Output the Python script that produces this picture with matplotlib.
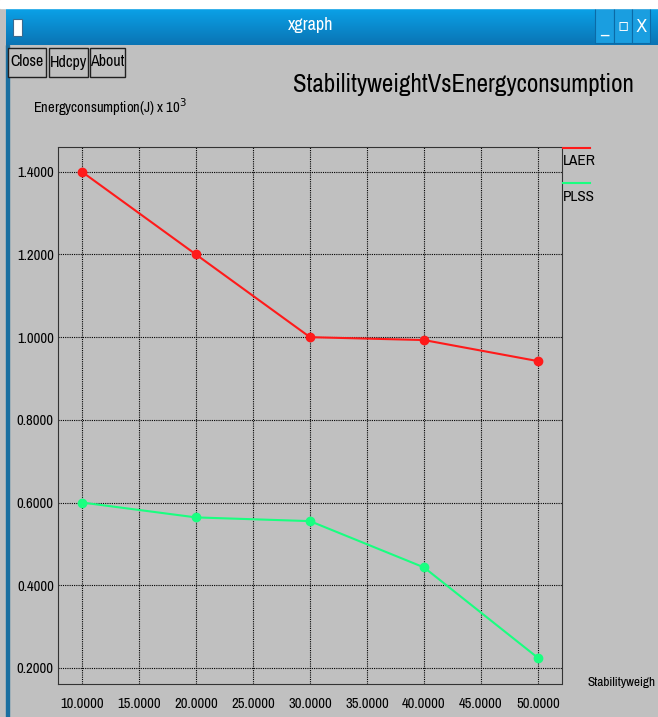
#xgraph style plot: stability weight vs energy consumption
import numpy as np
import matplotlib.pyplot as plt
from matplotlib.patches import Rectangle
from matplotlib.colors import LinearSegmentedColormap

# data
stability_weight = [10, 20, 30, 40, 50]
laer_energy = [1.40, 1.20, 1.00, 0.993, 0.942]
plss_energy = [0.60, 0.564, 0.555, 0.443, 0.224]
x_ticks = [10, 15, 20, 25, 30, 35, 40, 45, 50]
y_ticks = [0.2, 0.4, 0.6, 0.8, 1.0, 1.2, 1.4]

W, H = 658, 717
bg = '#c0c0c0'
fnt = ['Liberation Sans Narrow', 'Archivo Narrow', 'Liberation Sans', 'DejaVu Sans']

fig = plt.figure(figsize=(W / 100, H / 100), dpi=100)
fig.patch.set_facecolor(bg)

def fx(px):
    return px / W

def fy(py):
    return 1 - py / H

#window chrome
fig.patches.append(Rectangle((0, fy(8)), 1, 8 / H, transform=fig.transFigure, color='white', zorder=0))
grad = np.linspace(0, 1, 50).reshape(-1, 1)
bar_ax = fig.add_axes([fx(6), fy(45), 1 - fx(6), 37 / H])
bar_ax.imshow(grad, aspect='auto', extent=[0, 1, 0, 1],
              cmap=LinearSegmentedColormap.from_list('tb', ['#0aa2e8', '#0b74b4']))
bar_ax.set_xlim(0, 1)
bar_ax.set_ylim(0, 1)
bar_ax.set_axis_off()
bar_ax.text(0.468, 0.53, 'xgraph', color='white', fontsize=13, fontweight='bold', ha='center', va='center', family=fnt)
bar_ax.add_patch(Rectangle((0.011, 0.25), 0.014, 0.45, facecolor='white', edgecolor='#3a6a90', lw=0.8))
for x0, x1, lbl in [(595, 614, '_'), (614, 632, '▫'), (632, 650, 'X')]:
    u0 = (x0 - 6) / (W - 6)
    u1 = (x1 - 6) / (W - 6)
    bar_ax.add_patch(Rectangle((u0, 0.05), u1 - u0, 0.95, facecolor='#1a9ee0', edgecolor='#0b6aa6', lw=0.8))
    bar_ax.text((u0 + u1) / 2, 0.5, lbl, color='white', fontsize=12, ha='center', va='center', family=['DejaVu Sans'])
fig.patches.append(Rectangle((fx(6), 0), 2.5 / W, fy(45), transform=fig.transFigure, color='#1a6fa0', zorder=0))

#buttons
for x0, x1, lbl in [(8, 46, 'Close'), (49, 88, 'Hdcpy'), (90, 125, 'About')]:
    fig.patches.append(Rectangle((fx(x0), fy(77)), (x1 - x0) / W, 29 / H, transform=fig.transFigure,
                                 facecolor=bg, edgecolor='#202020', lw=1))
    fig.text(fx((x0 + x1) / 2), fy(62), lbl, fontsize=11.5, ha='center', va='center', family=fnt)

fig.text(fx(463), fy(84), 'StabilityweightVsEnergyconsumption', fontsize=18, ha='center', va='center', family=fnt)
fig.text(fx(33), fy(107), r'Energyconsumption(J) x 10$^3$', fontsize=10.5, ha='left', va='center', family=fnt)
fig.text(fx(587), fy(683), 'Stabilityweigh', fontsize=9.5, ha='left', va='center', family=fnt)

#plot area
ax = fig.add_axes([fx(58), fy(684), (562 - 58) / W, (684 - 147) / H])
ax.set_facecolor(bg)
ax.set_xlim(7.9, 52.1)
ax.set_ylim(0.161, 1.46)
ax.set_xticks(x_ticks)
ax.set_yticks(y_ticks)
ax.set_xticklabels(['%.4f' % v for v in x_ticks], family=fnt, fontsize=10.5)
ax.set_yticklabels(['%.4f' % v for v in y_ticks], family=fnt, fontsize=10.5)
ax.tick_params(length=0, pad=3)
ax.tick_params(axis='x', pad=9)
ax.grid(True, color='black', linestyle=(0, (1, 1)), lw=0.8)
for s in ax.spines.values():
    s.set_linestyle((0, (1, 1)))
    s.set_linewidth(0.8)
    s.set_color('#333333')

ax.plot(stability_weight, laer_energy, color='#ff1a1a', lw=1.5, marker='o', ms=6, zorder=3, clip_on=False)
ax.plot(stability_weight, plss_energy, color='#19ff80', lw=1.5, marker='o', ms=6, zorder=3, clip_on=False)

#legend on the right of the plot
fig.lines.append(plt.Line2D([fx(563), fx(590)], [fy(148), fy(148)], color='#ff1a1a', lw=1.5, transform=fig.transFigure))
fig.text(fx(563), fy(161), 'LAER', fontsize=11, ha='left', va='center', family=fnt)
fig.lines.append(plt.Line2D([fx(563), fx(590)], [fy(183), fy(183)], color='#19ff80', lw=1.5, transform=fig.transFigure))
fig.text(fx(563), fy(197), 'PLSS', fontsize=11, ha='left', va='center', family=fnt)

plt.savefig('out.png', dpi=100, facecolor=fig.get_facecolor())
